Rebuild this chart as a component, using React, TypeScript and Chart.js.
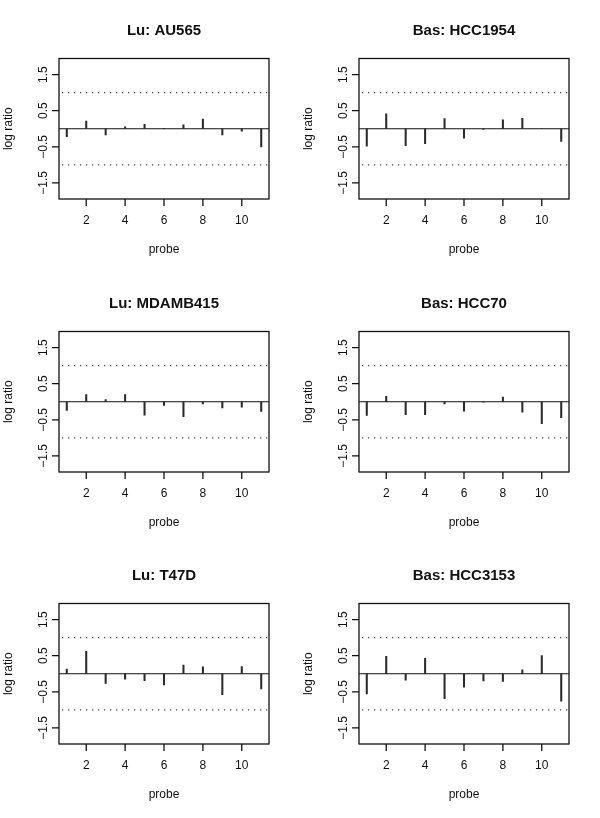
import React, { useEffect, useRef } from "react";
import { Chart, registerables } from "chart.js";
Chart.register(...registerables);

const probes = [1, 2, 3, 4, 5, 6, 7, 8, 9, 10, 11];

const au565 = [-0.22, 0.21, -0.17, 0.055, 0.12, 0.01, 0.11, 0.27, -0.17, -0.07, -0.5];
const hcc1954 = [-0.48, 0.41, -0.47, -0.41, 0.28, -0.26, -0.02, 0.25, 0.29, 0.0, -0.35];
const mdamb415 = [-0.24, 0.2, 0.06, 0.2, -0.37, -0.1, -0.41, -0.06, -0.17, -0.15, -0.27];
const hcc70 = [-0.38, 0.15, -0.36, -0.36, -0.06, -0.26, -0.01, 0.13, -0.29, -0.61, -0.44];
const t47d = [0.13, 0.62, -0.27, -0.15, -0.19, -0.31, 0.24, 0.19, -0.58, 0.2, -0.42];
const hcc3153 = [-0.56, 0.48, -0.18, 0.43, -0.69, -0.37, -0.2, -0.21, 0.11, 0.5, -0.76];

const panelTitles = ["Lu: AU565", "Bas: HCC1954", "Lu: MDAMB415", "Bas: HCC70", "Lu: T47D", "Bas: HCC3153"];
const panelValues = [au565, hcc1954, mdamb415, hcc70, t47d, hcc3153];

const xTickValues = [2, 4, 6, 8, 10];
const xTickLabels = ["2", "4", "6", "8", "10"];
const yTickValues = [-1.5, -0.5, 0.5, 1.5];
const yTickLabels = ["\u22121.5", "\u22120.5", "0.5", "1.5"];
const refLines = [-1, 1];
const xLabel = "probe";
const yLabel = "log ratio";

const FONT = '"Liberation Sans", Arial, Helvetica, sans-serif';

function Panel({ title, values, left, top }: { title: string; values: number[]; left: number; top: number }) {
  const ref = useRef<HTMLCanvasElement>(null);
  useEffect(() => {
    if (!ref.current) return;
    const overlay = {
      id: "rbase",
      beforeDatasetsDraw(chart: any) {
        const { ctx, chartArea: a, scales } = chart;
        const y = scales.y;
        ctx.save();
        ctx.strokeStyle = "#111";
        ctx.lineWidth = 1.2;
        const z = y.getPixelForValue(0);
        ctx.beginPath();
        ctx.moveTo(a.left, z);
        ctx.lineTo(a.right, z);
        ctx.stroke();
        ctx.strokeStyle = "#444";
        ctx.lineWidth = 1.1;
        ctx.setLineDash([1.2, 4.8]);
        for (const v of refLines) {
          const p = y.getPixelForValue(v);
          ctx.beginPath();
          ctx.moveTo(a.left + 3, p);
          ctx.lineTo(a.right, p);
          ctx.stroke();
        }
        ctx.restore();
      },
      afterDraw(chart: any) {
        const { ctx, chartArea: a, scales } = chart;
        const x = scales.x;
        const y = scales.y;
        ctx.save();
        ctx.strokeStyle = "#111";
        ctx.lineWidth = 1.3;
        ctx.strokeRect(a.left, a.top, a.right - a.left, a.bottom - a.top);
        ctx.beginPath();
        for (const v of xTickValues) {
          const px = x.getPixelForValue(v);
          ctx.moveTo(px, a.bottom);
          ctx.lineTo(px, a.bottom + 7);
        }
        for (const v of yTickValues) {
          const py = y.getPixelForValue(v);
          ctx.moveTo(a.left, py);
          ctx.lineTo(a.left - 7, py);
        }
        ctx.stroke();

        ctx.fillStyle = "#111";
        ctx.font = `12px ${FONT}`;
        ctx.textAlign = "center";
        ctx.textBaseline = "middle";
        xTickValues.forEach((v, i) => {
          ctx.fillText(xTickLabels[i], x.getPixelForValue(v), a.bottom + 22);
        });
        yTickValues.forEach((v, i) => {
          const py = y.getPixelForValue(v);
          ctx.save();
          ctx.translate(a.left - 15, py);
          ctx.rotate(-Math.PI / 2);
          ctx.fillText(yTickLabels[i], 0, 0);
          ctx.restore();
        });
        const cx = (a.left + a.right) / 2;
        const cy = (a.top + a.bottom) / 2;
        ctx.fillText(xLabel, cx, a.bottom + 51);
        ctx.save();
        ctx.translate(a.left - 50, cy);
        ctx.rotate(-Math.PI / 2);
        ctx.fillText(yLabel, 0, 0);
        ctx.restore();

        ctx.font = `bold 15px ${FONT}`;
        ctx.fillText(title, cx, a.top - 28);
        ctx.restore();
      },
    };
    const chart = new Chart(ref.current, {
      type: "bar",
      data: {
        datasets: [
          {
            data: probes.map((p, i) => ({ x: p, y: values[i] })) as any,
            backgroundColor: "#2b2b2b",
            borderWidth: 0,
            barThickness: 1.4,
          } as any,
        ],
      },
      options: {
        responsive: false,
        animation: false,
        events: [],
        layout: { padding: { left: 59, right: 31, top: 58.5, bottom: 74 } },
        plugins: { legend: { display: false }, tooltip: { enabled: false }, title: { display: false } },
        scales: {
          x: { type: "linear", min: 0.6, max: 11.4, offset: false, display: false },
          y: { type: "linear", min: -1.944, max: 1.944, display: false },
        },
      } as any,
      plugins: [overlay],
    });
    return () => chart.destroy();
  }, [title, values]);
  return (
    <canvas
      ref={ref}
      width={300}
      height={273}
      style={{ position: "absolute", left, top, width: 300, height: 273, display: "block" }}
    />
  );
}

export default function App() {
  return (
    <div style={{ position: "absolute", left: 0, top: 0, width: 600, height: 818, background: "#fff" }}>
      {panelTitles.map((t, i) => (
        <Panel
          key={t}
          title={t}
          values={panelValues[i]}
          left={(i % 2) * 300}
          top={Math.round(Math.floor(i / 2) * 272.67)}
        />
      ))}
    </div>
  );
}
